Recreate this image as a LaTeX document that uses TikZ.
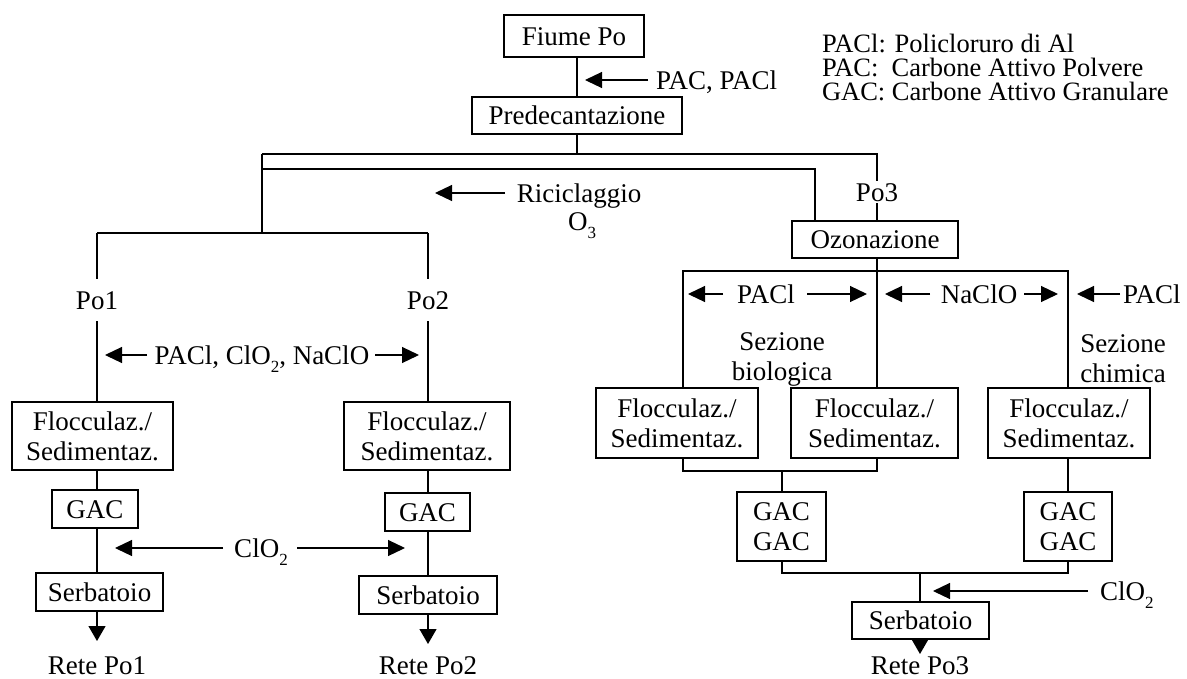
\documentclass[tikz,border=0pt]{standalone}
\usepackage{fontspec}
\setmainfont{Liberation Serif}
\usetikzlibrary{arrows.meta}
\newcommand{\mysub}[1]{\raisebox{-8pt}{\fontsize{17}{17}\selectfont #1}}
\begin{document}
\begin{tikzpicture}[x=1pt,y=-1pt,
  every node/.style={font=\fontsize{27}{30}\selectfont, inner sep=0pt, outer sep=0pt},
  ln/.style={line width=1.2pt},
  box/.style={draw, line width=1.2pt},
  lbl/.style={text height=18pt, text depth=0pt},
  ml/.style={align=center},
  arr/.style={line width=1.2pt, -{Triangle[length=17pt,width=16pt]}},
  darr/.style={line width=1.2pt, -{Triangle[length=15pt,width=17pt]}}]
\useasboundingbox (0,0) rectangle (1187,678);

% ---- boxes ----
\node[box,lbl,minimum width=140pt,minimum height=42pt] (fiume) at (574,36) {Fiume Po};
\node[box,lbl,minimum width=210pt,minimum height=37pt] (pred) at (577,115.5) {Predecantazione};
\node[box,lbl,minimum width=166pt,minimum height=37pt] (ozo) at (875,239.5) {Ozonazione};

\node[box,ml,minimum width=161pt,minimum height=68pt] (fL1) at (92.5,436) {Flocculaz./\\Sedimentaz.};
\node[box,lbl,minimum width=86pt,minimum height=38pt] (gac1) at (95,509) {GAC};
\node[box,lbl,minimum width=127pt,minimum height=38pt] (ser1) at (99.5,592) {Serbatoio};

\node[box,ml,minimum width=166pt,minimum height=68pt] (fL2) at (427,436) {Flocculaz./\\Sedimentaz.};
\node[box,lbl,minimum width=85pt,minimum height=38pt] (gac2) at (427.5,512) {GAC};
\node[box,lbl,minimum width=138pt,minimum height=38pt] (ser2) at (428,595) {Serbatoio};

\node[box,ml,minimum width=162pt,minimum height=70pt] (fA) at (677,423) {Flocculaz./\\Sedimentaz.};
\node[box,ml,minimum width=167pt,minimum height=70pt] (fB) at (874.5,423) {Flocculaz./\\Sedimentaz.};
\node[box,ml,minimum width=162pt,minimum height=70pt] (fC) at (1069,423) {Flocculaz./\\Sedimentaz.};
\node[box,ml,minimum width=89pt,minimum height=69pt] (gacA) at (781.5,526.5) {GAC\\GAC};
\node[box,ml,minimum width=88pt,minimum height=69pt] (gacC) at (1068,526.5) {GAC\\GAC};
\node[box,lbl,minimum width=137pt,minimum height=37pt] (ser3) at (920.5,620.5) {Serbatoio};

% ---- labels ----
\node[lbl,anchor=west] (pac) at (656,80) {PAC, PACl};
\node[lbl] (ric) at (579,193) {Riciclaggio};
\node[lbl] (o3) at (582,221) {O\mysub{3}};
\node[lbl,inner ysep=2pt] (po3) at (877,192) {Po3};
\node[lbl,inner ysep=12pt] (po1) at (97,300) {Po1};
\node[lbl,inner ysep=12pt] (po2) at (428,300) {Po2};
\node[lbl] (chem1) at (262,355) {PACl, ClO\mysub{2}, NaClO};
\node[lbl] (clo2a) at (261,548) {ClO\mysub{2}};
\node[lbl] (pacl1) at (766,294) {PACl};
\node[lbl] (naclo) at (979,294) {NaClO};
\node[lbl,anchor=west] (pacl2) at (1123,294) {PACl};
\node[ml] (sbio) at (782,359) {Sezione\\biologica};
\node[ml] (schim) at (1123,359) {Sezione\\chimica};
\node[lbl,anchor=west] (clo2b) at (1100,591) {ClO\mysub{2}};
\node[lbl] (rete1) at (97,665) {Rete Po1};
\node[lbl] (rete2) at (428,665) {Rete Po2};
\node[lbl] (rete3) at (920,665) {Rete Po3};
\node[align=left,anchor=base west,font=\fontsize{26.5}{24}\selectfont] (legend) at (822,100)
  {PACl: Policloruro di Al\\PAC:\ \ Carbone Attivo Polvere\\GAC: Carbone Attivo Granulare};

% ---- junction coordinates ----
\coordinate (j0) at (577,154);
\coordinate (jL) at (262,154);
\coordinate (jR) at (877,154);
\coordinate (jRec) at (262,169);
\coordinate (jRecR) at (815,169);
\coordinate (jLb) at (262,233);
\coordinate (jP1) at (97,233);
\coordinate (jP2) at (428,233);
\coordinate (fr1) at (683,271);
\coordinate (fr2) at (1068,271);
\coordinate (b1) at (683,471);
\coordinate (b2) at (877,471);
\coordinate (b3) at (782,471);
\coordinate (c1) at (782,573);
\coordinate (c2) at (1068,573);
\coordinate (c3) at (920,573);
\coordinate (t1) at (97,641);
\coordinate (t2) at (428,644);
\coordinate (t3) at (920,654);

% ---- main connectors ----
\draw[ln] (fiume.south -| j0) -- (pred.north -| j0);
\draw[ln] (pred.south -| j0) -- (j0);
\draw[ln] (jL) -- (jR) -- (po3.north);
\draw[ln] (po3.south) -- (ozo.north -| po3);
\draw[ln] (jRec) -- (jRecR) -- (ozo.north -| jRecR);
\draw[ln] (jL) -- (jLb);
\draw[ln] (jP1) -- (jP2);
\draw[ln] (jP1) -- (po1.north);
\draw[ln] (jP2) -- (po2.north);
\draw[ln] (po1.south) -- (fL1.north -| po1);
\draw[ln] (po2.south) -- (fL2.north -| po2);
\draw[ln] (fL1.south -| po1) -- (gac1.north -| po1);
\draw[ln] (gac1.south -| po1) -- (ser1.north -| po1);
\draw[darr] (ser1.south -| t1) -- (t1);
\draw[ln] (fL2.south -| po2) -- (gac2.north -| po2);
\draw[ln] (gac2.south -| po2) -- (ser2.north -| po2);
\draw[darr] (ser2.south -| t2) -- (t2);

\draw[ln] (ozo.south -| po3) -- (fB.north -| po3);
\draw[ln] (fA.north -| fr1) -- (fr1) -- (fr2) -- (fC.north -| fr2);
\draw[ln] (fA.south -| b1) -- (b1) -- (b2) -- (fB.south -| b2);
\draw[ln] (b3) -- (gacA.north -| b3);
\draw[ln] (fC.south -| fr2) -- (gacC.north -| fr2);
\draw[ln] (gacA.south -| c1) -- (c1) -- (c2) -- (gacC.south -| c2);
\draw[ln] (c3) -- (ser3.north -| c3);
\draw[darr] (ser3.south -| t3) -- (t3);

% ---- dosing arrows ----
\coordinate (pacT) at (648,80);   \coordinate (pacH) at (585,80);
\draw[arr] (pacT) -- (pacH);
\coordinate (ricT) at (505,193);  \coordinate (ricH) at (435,193);
\draw[arr] (ricT) -- (ricH);
\coordinate (c1T) at (147,355);   \coordinate (c1H) at (105,355);
\coordinate (c2T) at (375,355);   \coordinate (c2H) at (419,355);
\draw[arr] (c1T) -- (c1H);
\draw[arr] (c2T) -- (c2H);
\coordinate (d1T) at (223,548);   \coordinate (d1H) at (115,548);
\coordinate (d2T) at (297,548);   \coordinate (d2H) at (405,548);
\draw[arr] (d1T) -- (d1H);
\draw[arr] (d2T) -- (d2H);
\coordinate (p1T) at (723,294);   \coordinate (p1H) at (688,294);
\coordinate (p2T) at (807,294);   \coordinate (p2H) at (867,294);
\draw[arr] (p1T) -- (p1H);
\draw[arr] (p2T) -- (p2H);
\coordinate (n1T) at (930,294);   \coordinate (n1H) at (885,294);
\coordinate (n2T) at (1024,294);  \coordinate (n2H) at (1058,294);
\draw[arr] (n1T) -- (n1H);
\draw[arr] (n2T) -- (n2H);
\coordinate (q1T) at (1120,294);  \coordinate (q1H) at (1077,294);
\draw[arr] (q1T) -- (q1H);
\coordinate (e1T) at (1088,591);  \coordinate (e1H) at (933,591);
\draw[arr] (e1T) -- (e1H);
\end{tikzpicture}
\end{document}
